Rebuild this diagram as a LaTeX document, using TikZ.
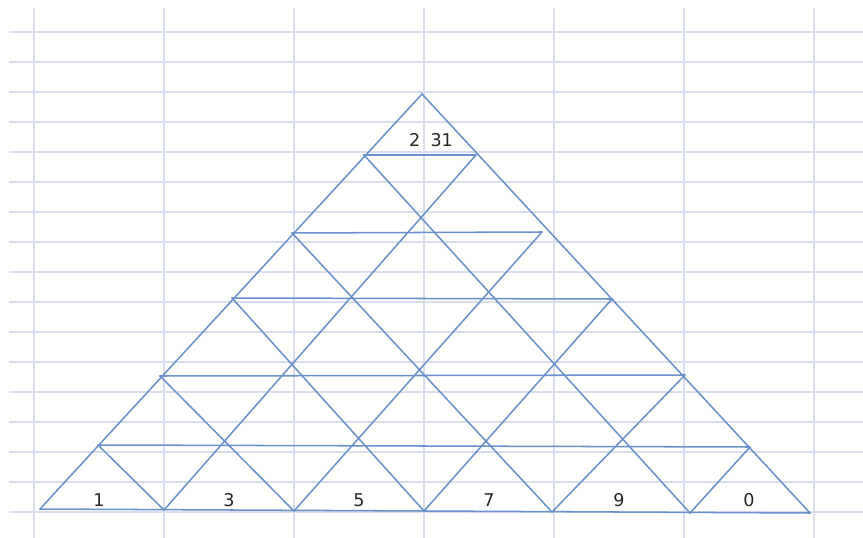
\documentclass[tikz,border=0pt]{standalone}
\usepackage{fontspec}
\newfontfamily\cellfont{DejaVu Sans}
\usetikzlibrary{positioning}
\definecolor{gridblue}{RGB}{216,222,238}
\definecolor{penblue}{RGB}{106,145,203}

\begin{document}
\begin{tikzpicture}[
  x=0.03cm, y=-0.03cm,
  cell/.style={draw=gridblue, line width=1.1pt},
  pen/.style={draw=penblue, line width=1.3pt, line cap=round},
  num/.style={inner sep=0pt, font=\cellfont\fontsize{15}{17}\selectfont, text=black!85}
]
\useasboundingbox (0,0) rectangle (863,538);
% spreadsheet grid
\foreach \r in {0,...,16} \draw[cell] (9,32+30*\r) -- (863,32+30*\r);
\foreach \c in {0,...,6} \draw[cell] (34+130*\c,8) -- (34+130*\c,538);
% triangle corners and points on the base
\coordinate (apex) at (422,94);
\coordinate (b0) at (40,509);  \coordinate (b1) at (164,510); \coordinate (b2) at (294,511);
\coordinate (b3) at (424,511); \coordinate (b4) at (552,512); \coordinate (b5) at (690,513);
\coordinate (b6) at (810,513);
% points on the sides, row by row from the base up
\coordinate (l1) at (98,445);  \coordinate (r1) at (750,447);
\coordinate (l2) at (160,376); \coordinate (r2) at (685,375);
\coordinate (l3) at (232,298); \coordinate (r3) at (612,299);
\coordinate (l4) at (292,233); \coordinate (r4) at (542,232);
\coordinate (l5) at (364,155); \coordinate (r5) at (476,155);
% outline
\draw[pen] (b0) -- (apex) -- (b6);
\draw[pen] (b0) -- (b6);
% rows and diagonals
\foreach \i in {1,...,5} \draw[pen] (l\i) -- (r\i);
\foreach \i/\j in {1/5,2/4,3/3,4/2,5/1} {\draw[pen] (b\i) -- (l\i); \draw[pen] (b\i) -- (r\j);}
% numbers
\node[num] (top) at (431,140) {2\hspace{4pt} 31};
\foreach \d [count=\k from 0] in {1,3,5,7,9,0} \node[num] (n\k) at (99+130*\k,500) {\d};
\end{tikzpicture}
\end{document}
